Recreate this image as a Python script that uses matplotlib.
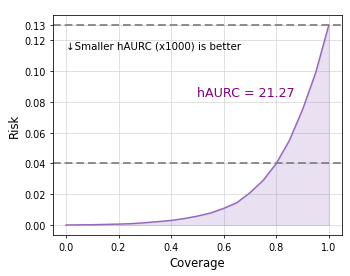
import matplotlib
matplotlib.use("Agg")
import matplotlib.pyplot as plt
import numpy as np

coverage = [0.0, 0.05, 0.1, 0.15, 0.2, 0.25, 0.3, 0.35, 0.4, 0.45, 0.5, 0.55,
            0.6, 0.65, 0.7, 0.75, 0.8, 0.85, 0.9, 0.95, 1.0]
risk = [0.0, 0.0001, 0.0002, 0.0004, 0.0006, 0.0009, 0.0015, 0.0022, 0.003,
        0.0042, 0.0058, 0.0078, 0.0108, 0.0145, 0.021, 0.029, 0.040, 0.055,
        0.075, 0.099, 0.13]
ref_lines = [0.13, 0.04]
y_ticks = [0.00, 0.02, 0.04, 0.06, 0.08, 0.10, 0.12, 0.13]
x_ticks = [0.0, 0.2, 0.4, 0.6, 0.8, 1.0]
haurc = 21.27

fig = plt.figure(figsize=(5.0, 3.957), dpi=70)
ax = fig.add_axes([0.151, 0.148, 0.826, 0.794])

ax.plot(coverage, risk, color="tab:purple", lw=1.5)
ax.fill_between(coverage, risk, 0, color="tab:purple", alpha=0.2)
for r in ref_lines:
    ax.axhline(r, color="gray", ls="--", lw=2, alpha=0.9, dashes=(4, 2))

ax.set_yticks(y_ticks)
ax.set_xticks(x_ticks)
ax.tick_params(labelsize=10)
ax.grid(True, color="#d0d0d0", lw=0.8, alpha=0.8)
ax.set_axisbelow(True)

ax.text(0.0, 0.117, "\u2193Smaller hAURC (x1000) is better", fontsize=10.5,
        va="center", ha="left")
ax.text(0.5, 0.086, f"hAURC = {haurc:.2f}", fontsize=13, color="purple",
        va="center", ha="left")

ax.set_xlabel("Coverage", fontsize=12)
ax.set_ylabel("Risk", fontsize=12)

fig.savefig("out.png", dpi=70)
